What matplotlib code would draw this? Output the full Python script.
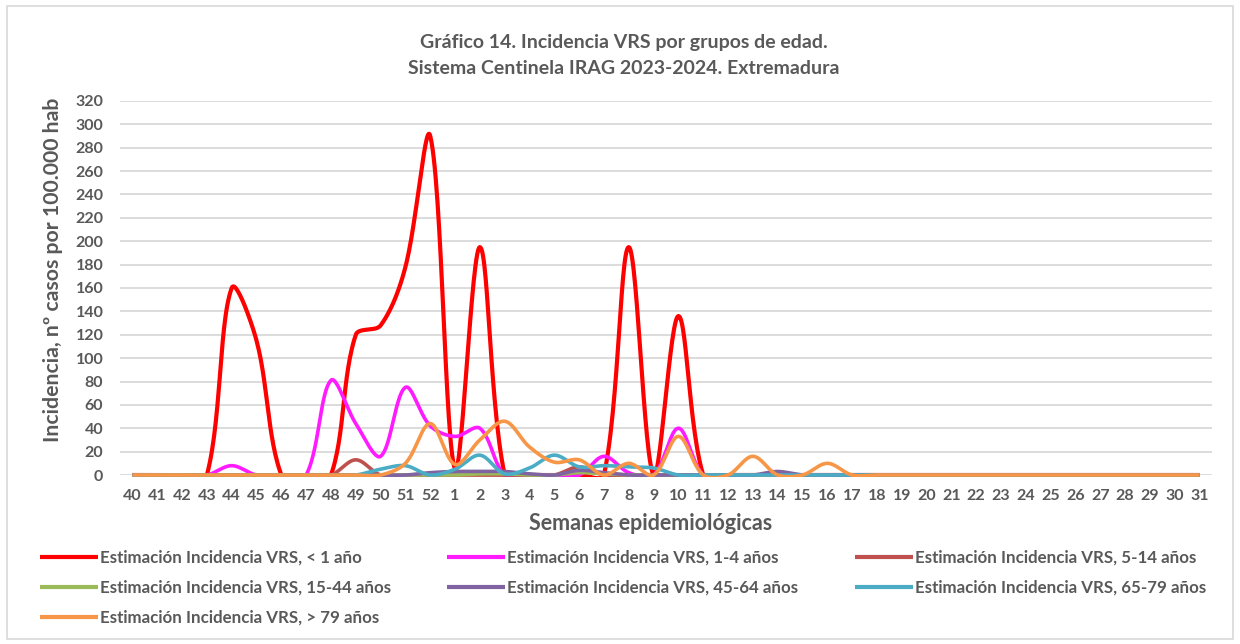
import numpy as np
import matplotlib
matplotlib.use("Agg")
import matplotlib.pyplot as plt
from matplotlib.patches import FancyBboxPatch, Rectangle

plt.rcParams['font.family'] = ['Lato', 'DejaVu Sans']

weeks = [str(w) for w in list(range(40, 53)) + list(range(1, 32))]

#       40 41 42 43  44   45 46 47 48  49   50   51   52  1   2   3  4  5  6  7   8  9   10 11 ...
lt1 = [0, 0, 0, 0, 160, 115, 0, 0, 0, 120, 128, 178, 290, 5, 195, 0, 0, 0, 0, 0, 195, 0, 136, 0] + [0] * 20
a1_4 = [0, 0, 0, 0, 8, 0, 0, 0, 81, 44, 16, 75, 42, 33, 40, 0, 0, 0, 0, 16, 2, 0, 40, 0] + [0] * 20
a5_14 = [0, 0, 0, 0, 0, 0, 0, 0, 0, 13, 0, 0, 0, 0, 0, 0, 0, 0, 7, 0, 0, 0, 0, 0] + [0] * 20
a15_44 = [0] * 13 + [0, 1, 1, 0, 0, 2, 1, 0, 0, 0, 0] + [0] * 20
a45_64 = [0] * 12 + [2, 3, 3, 3, 1, 0, 4, 2, 0, 0, 0, 0, 0, 0, 3, 0] + [0] * 16
a65_79 = [0, 0, 0, 0, 0, 0, 0, 0, 0, 0, 5, 8, 0, 5, 17, 1, 6, 17, 7, 8, 7, 6, 0, 0] + [0] * 20
gt79 = [0] * 11 + [10, 44, 9, 30, 46, 24, 11, 13, 0, 10, 0, 33, 0, 0, 16, 0, 0, 10, 0] + [0] * 14

series = [
    ("Estimación Incidencia VRS, < 1 año", lt1, "#FF0000"),
    ("Estimación Incidencia VRS, 1-4 años", a1_4, "#FF1AFF"),
    ("Estimación Incidencia VRS, 5-14 años", a5_14, "#C0504D"),
    ("Estimación Incidencia VRS, 15-44 años", a15_44, "#9BBB59"),
    ("Estimación Incidencia VRS, 45-64 años", a45_64, "#8064A2"),
    ("Estimación Incidencia VRS, 65-79 años", a65_79, "#4BACC6"),
    ("Estimación Incidencia VRS, > 79 años", gt79, "#F79646"),
]

SX, SY = 24.8, 1.169  # approx. pixels per data unit, used only for the smoothing geometry


def smooth(x, y, n=30):
    """Excel-like smoothed line: Bezier segments with length-weighted tangents."""
    P = np.column_stack([np.asarray(x, float) * SX, np.asarray(y, float) * SY])
    P = np.vstack([P[0], P, P[-1]])
    t = np.linspace(0, 1, n)[:, None]
    out = []
    for i in range(1, len(P) - 2):
        p0, p1, p2, p3 = P[i - 1], P[i], P[i + 1], P[i + 2]
        d01 = np.hypot(*(p1 - p0))
        d12 = np.hypot(*(p2 - p1))
        d23 = np.hypot(*(p3 - p2))
        f1 = d12 / (d01 + d12) / 3 if d01 + d12 > 0 else 0
        f2 = d12 / (d12 + d23) / 3 if d12 + d23 > 0 else 0
        c1 = p1 + (p2 - p0) * f1
        c2 = p2 - (p3 - p1) * f2
        b = (1 - t) ** 3 * p1 + 3 * (1 - t) ** 2 * t * c1 + 3 * (1 - t) * t ** 2 * c2 + t ** 3 * p2
        out.append(b)
    B = np.vstack(out)
    return B[:, 0] / SX, B[:, 1] / SY


fig = plt.figure(figsize=(12.4, 6.44), dpi=100)
fig.patches.append(FancyBboxPatch((0.006, 0.008), 0.988, 0.982, boxstyle="square,pad=0",
                                  transform=fig.transFigure, fill=False,
                                  edgecolor="#d9d9d9", linewidth=1.2))
ax = fig.add_axes([0.0968, 0.2624, 0.8806, 0.5808])

txt = "#595959"
xi = np.arange(len(weeks))
ax.set_xlim(-0.5, len(weeks) - 0.5)
ax.set_ylim(0, 320)
clip = Rectangle((-0.5, -1.8), len(weeks), 330, transform=ax.transData, visible=False)
ax.add_patch(clip)

handles = {}
for label, vals, color in series:
    sx, sy = smooth(xi, vals)
    lw = 3.0 if color == "#FF0000" else 2.6
    h, = ax.plot(sx, sy, color=color, lw=lw, label=label,
                 solid_capstyle="butt", solid_joinstyle="round")
    h.set_clip_path(clip)
    handles[label] = h

ax.set_yticks(np.arange(0, 321, 20))
ax.set_xticks(xi)
ax.set_xticklabels(weeks)
ax.grid(axis="y", color="#d9d9d9", lw=1.3)
ax.set_axisbelow(True)
for s in ax.spines.values():
    s.set_visible(False)
ax.tick_params(axis="both", length=0, labelsize=11.5, labelcolor=txt)
ax.tick_params(axis="y", pad=12)
ax.tick_params(axis="x", pad=10)
for lab in ax.get_xticklabels() + ax.get_yticklabels():
    lab.set_fontweight("bold")

ax.set_xlabel("Semanas epidemiológicas", fontsize=15.5, fontweight="bold", color=txt, labelpad=7)
ax.set_ylabel("Incidencia, nº casos por 100.000 hab", fontsize=15.3, fontweight="bold", color=txt, labelpad=9)
ax.xaxis.label.set_x(0.486)
ax.yaxis.label.set_y(0.548)

fig.text(0.503, 0.934, "Gráfico 14. Incidencia VRS por grupos de edad.", ha="center", va="center",
         fontsize=14, fontweight="bold", color=txt)
fig.text(0.503, 0.894, "Sistema Centinela IRAG 2023-2024. Extremadura", ha="center", va="center",
         fontsize=14, fontweight="bold", color=txt)

columns = [[0, 3, 6], [1, 4], [2, 5]]
col_x = [40 / 1240, 447 / 1240, 855 / 1240]
for cols, x0 in zip(columns, col_x):
    leg = fig.legend([handles[series[i][0]] for i in cols], [series[i][0] for i in cols],
                     loc="upper left", bbox_to_anchor=(x0, 1 - 550 / 644),
                     frameon=False, fontsize=12.2, handlelength=3.4, handletextpad=0.15,
                     labelspacing=0.82, borderaxespad=0, borderpad=0)
    for t in leg.get_texts():
        t.set_color(txt)
        t.set_fontweight("bold")
    for l in leg.get_lines():
        l.set_linewidth(3.0)

fig.savefig("out.png", dpi=100)
